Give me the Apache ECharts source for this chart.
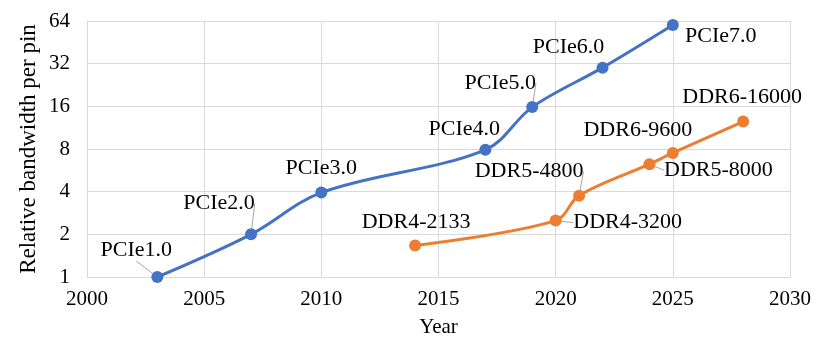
<!DOCTYPE html>
<html>
<head>
<meta charset="utf-8">
<script src="https://cdn.jsdelivr.net/npm/echarts@6/dist/echarts.min.js"></script>
<style>
html, body { margin: 0; padding: 0; background: #fff; }
#main { width: 830px; height: 363px; }
</style>
</head>
<body>
<div id="main"></div>
<script>
// data
var pcieYears = [2003, 2007, 2010, 2017, 2019, 2022, 2025];
var pcieValues = [1, 2, 3.94, 7.9, 15.8, 30, 60];
var pcieNames = ['PCIe1.0', 'PCIe2.0', 'PCIe3.0', 'PCIe4.0', 'PCIe5.0', 'PCIe6.0', 'PCIe7.0'];

var ddrYears = [2014, 2020, 2021, 2024, 2025, 2028];
var ddrValues = [1.67, 2.5, 3.75, 6.25, 7.5, 12.5];
var ddrNames = ['DDR4-2133', 'DDR4-3200', 'DDR5-4800', 'DDR5-8000', 'DDR6-9600', 'DDR6-16000'];

// label offsets from the point (dx, dy) and whether a leader line is shown
var pcieOffsets = [[-21, -27, 1], [-32, -31, 1], [0, -24, 0], [-21, -21, 0], [-32, -24, 1], [-34, -20, 0], [48, 11, 0]];
var ddrOffsets = [[1, -23, 0], [72, 2, 1], [-50, -24, 1], [69, 6, 1], [-35, -23, 0], [-1, -24, 0]];

var font = '"Liberation Serif", "Times New Roman", serif';
var gridColor = '#d9d9d9';

function buildData(years, values, names, offsets) {
	return years.map(function (y, i) {
		return {
			value: [y, values[i]],
			name: names[i],
			labelLine: { show: !!offsets[i][2] }
		};
	});
}

function makeSeries(name, color, years, values, names, offsets) {
	return {
		name: name,
		type: 'line',
		smooth: 0.35,
		symbol: 'circle',
		symbolSize: 12,
		data: buildData(years, values, names, offsets),
		lineStyle: { color: color, width: 3 },
		itemStyle: { color: color },
		label: {
			show: true,
			position: 'inside',
			formatter: '{b}',
			color: '#000',
			fontFamily: font,
			fontSize: 22
		},
		labelLine: {
			show: true,
			lineStyle: { color: '#a6a6a6', width: 1 }
		},
		labelLayout: function (p) {
			var o = offsets[p.dataIndex];
			return { dx: o[0], dy: o[1] };
		},
		z: 3
	};
}

var chart = echarts.init(document.getElementById('main'));

var option = {
	animation: false,
	backgroundColor: '#fff',
	grid: { left: 87, right: 40, top: 21, bottom: 86 },
	xAxis: {
		type: 'value',
		min: 2000,
		max: 2030,
		interval: 5,
		name: 'Year',
		nameLocation: 'middle',
		nameGap: 40,
		nameMoveOverlap: false,
		nameTextStyle: { color: '#000', fontFamily: font, fontSize: 21 },
		axisLine: { show: true, lineStyle: { color: gridColor, width: 1 } },
		axisTick: { show: false },
		axisLabel: {
			color: '#000', fontFamily: font, fontSize: 21, margin: 12,
			formatter: function (v) { return String(v); }
		},
		splitLine: { show: true, lineStyle: { color: gridColor, width: 1 } }
	},
	yAxis: {
		type: 'log',
		logBase: 2,
		min: 1,
		max: 64,
		splitNumber: 6,
		name: 'Relative bandwidth per pin',
		nameLocation: 'middle',
		nameGap: 47,
		nameMoveOverlap: false,
		nameTextStyle: { color: '#000', fontFamily: font, fontSize: 23 },
		axisLine: { show: true, lineStyle: { color: gridColor, width: 1 } },
		axisTick: { show: false },
		axisLabel: { color: '#000', fontFamily: font, fontSize: 21, margin: 17 },
		splitLine: { show: true, lineStyle: { color: gridColor, width: 1 } }
	},
	series: [
		makeSeries('PCIe', '#4472c4', pcieYears, pcieValues, pcieNames, pcieOffsets),
		makeSeries('DDR', '#ed7d31', ddrYears, ddrValues, ddrNames, ddrOffsets)
	]
};

chart.setOption(option);
</script>
</body>
</html>
